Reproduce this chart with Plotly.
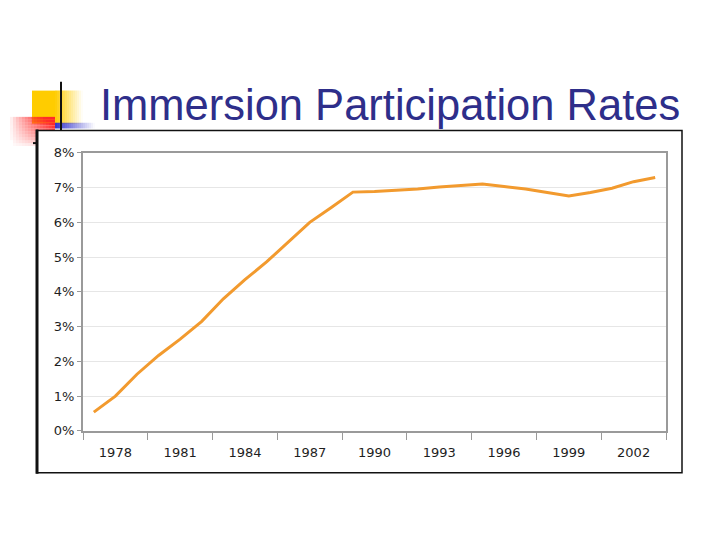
import plotly.graph_objects as go

W, H = 720, 540

years = list(range(1977, 2004))
rates = [0.54, 1.00, 1.63, 2.17, 2.64, 3.15, 3.80, 4.35, 4.86, 5.43, 6.00, 6.43, 6.87,
         6.89, 6.92, 6.96, 7.02, 7.06, 7.10, 7.03, 6.96, 6.86, 6.76, 6.86, 6.98, 7.17, 7.29]
label_years = [1978, 1981, 1984, 1987, 1990, 1993, 1996, 1999, 2002]
y_ticks = [0, 1, 2, 3, 4, 5, 6, 7, 8]
title_text = "Immersion Participation Rates"

def px(x):
    return x / W

def py(y):
    return 1 - y / H

fig = go.Figure()
fig.add_trace(go.Scatter(x=years, y=rates, mode="lines",
                         line=dict(color="#F29A2E", width=3), showlegend=False,
                         hoverinfo="skip"))

shapes = []

def rect(x0, y0, x1, y1, color, opacity=1.0):
    shapes.append(dict(type="rect", xref="paper", yref="paper",
                       x0=px(x0), x1=px(x1), y0=py(y1), y1=py(y0),
                       fillcolor=color, opacity=opacity, line=dict(width=0),
                       layer="below"))

def line(x0, y0, x1, y1, color, width):
    shapes.append(dict(type="line", xref="paper", yref="paper",
                       x0=px(x0), x1=px(x1), y0=py(y0), y1=py(y1),
                       line=dict(color=color, width=width), layer="above"))

# yellow square with fade to the right
rect(32, 86, 55, 120, "#FFCC00")
n = 14
for i in range(n):
    x0 = 55 + i * 2
    rect(x0, 86, x0 + 2, 120, "#FFCC00", opacity=max(0.0, 1 - (i + 0.5) / n))

# red square with diagonal fade (strong top-right)
step = 3
for xi in range(10, 55, step):
    for yi in range(113, 143, step):
        fx = (xi + step / 2 - 10) / 45.0
        fy = 1 - (yi + step / 2 - 113) / 30.0
        op = min(1.0, (fx ** 0.8) * (fy ** 0.6) * 1.25)
        if op > 0.03:
            rect(xi, yi, xi + step, yi + step, "#FF2A2A", opacity=op)

# blue bar fading right
n = 20
for i in range(n):
    x0 = 55 + i * 2
    rect(x0, 119, x0 + 2, 125, "#3333CC", opacity=max(0.0, 1 - (i + 0.5) / n))

# white background for chart frame
shapes.append(dict(type="rect", xref="paper", yref="paper",
                   x0=px(37), x1=px(682), y0=py(479), y1=py(127),
                   fillcolor="white", line=dict(color="#111111", width=1.5),
                   layer="below"))
line(37, 126, 37, 480, "#111111", 3)
line(33, 140, 37, 140, "#111111", 2)
# vertical black line
line(61, 77, 61, 127, "#111111", 2)

fig.update_layout(shapes=shapes)

fig.add_annotation(text=title_text, xref="paper", yref="paper",
                   x=px(98), y=py(128), xanchor="left", yanchor="bottom",
                   showarrow=False,
                   font=dict(family="Liberation Sans", size=43.5, color="#2E2E8A"))

tick_font = dict(family="DejaVu Sans", size=13, color="#1e1e1e")

fig.update_layout(
    width=W, height=H,
    margin=dict(l=0, r=0, t=0, b=0),
    paper_bgcolor="white", plot_bgcolor="white",
    xaxis=dict(domain=[px(83), px(666)], range=[1976.5, 2003.5],
               tickvals=label_years, ticktext=[str(v) for v in label_years],
               ticks="", showgrid=False, zeroline=False, ticklabelstandoff=9,
               showline=True, linecolor="#9a9a9a", linewidth=2, mirror=True,
               tickfont=tick_font,
               minor=dict(tick0=1976.5, dtick=3, ticks="outside", ticklen=7,
                          tickcolor="#9a9a9a", tickwidth=1, showgrid=False)),
    yaxis=dict(domain=[py(436), py(150)], range=[0, 8],
               tickvals=y_ticks, ticktext=[f"{v}%" for v in y_ticks],
               ticks="outside", ticklen=4, tickcolor="#9a9a9a",
               showgrid=True, gridcolor="#e6e6e6", gridwidth=1, zeroline=False,
               showline=True, linecolor="#9a9a9a", linewidth=2, mirror=True,
               tickfont=tick_font),
)

fig.write_html("out.html")
